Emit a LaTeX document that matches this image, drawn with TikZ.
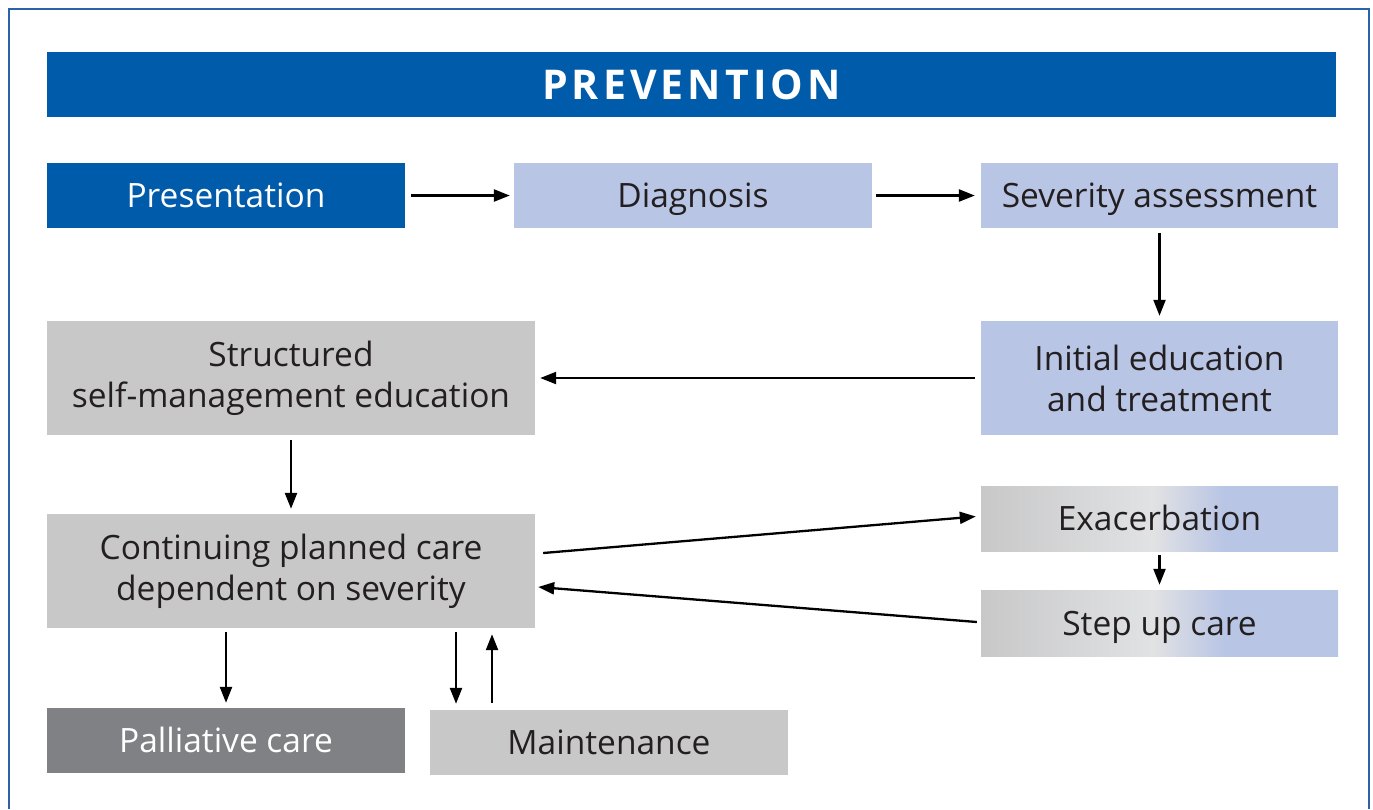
\documentclass[tikz,border=0pt]{standalone}
\usepackage{fontspec}
\setmainfont{Open Sans}
\newfontfamily\headfont[LetterSpace=10]{Open Sans}
\usetikzlibrary{arrows.meta}
\definecolor{frameblue}{HTML}{2E62A8}
\definecolor{darkblue}{HTML}{005BAA}
\definecolor{lightblue}{HTML}{B9C5E5}
\definecolor{lightgray}{HTML}{C8C8C9}
\definecolor{paleGray}{HTML}{E1E2E3}
\definecolor{darkgray}{HTML}{808184}
\definecolor{inktext}{HTML}{231F20}
\pgfdeclarehorizontalshading{grayblue}{100bp}{%
  color(0bp)=(lightgray); color(25bp)=(lightgray);
  color(49bp)=(paleGray); color(59bp)=(lightblue);
  color(75bp)=(lightblue); color(100bp)=(lightblue)}
\tikzset{
  box/.style={inner sep=0pt, align=center, font=\fontsize{33.5}{41}\selectfont, text=inktext},
  oneline/.style={text height=24pt, text depth=0pt},
  bluebox/.style={box, fill=lightblue},
  graybox/.style={box, fill=lightgray},
  gradbox/.style={box, shading=grayblue},
  darkbox/.style={box, fill=darkblue, text=white},
  dgraybox/.style={box, fill=darkgray, text=white},
  arr/.style={draw=black, line width=2.3pt, -{Triangle[length=16pt,width=12pt]}}
}
\begin{document}
\begin{tikzpicture}[x=1pt,y=-1pt]
\useasboundingbox (0,0) rectangle (1373,809);
% frame open at the bottom
\draw[frameblue, line width=2pt] (9,809) -- (9,9) -- (1369,9) -- (1369,809);
% header bar
\node[darkbox, oneline, text height=29pt, minimum width=1289pt, minimum height=65pt, font=\headfont\bfseries\fontsize{41}{44}\selectfont] (prev) at (691.5,84.5) {PREVENTION};
% top row
\node[darkbox, oneline, minimum width=358pt, minimum height=65pt] (pres) at (226,195.5) {Presentation};
\node[bluebox, oneline, minimum width=358pt, minimum height=65pt] (diag) at (693,195.5) {Diagnosis};
\node[bluebox, oneline, minimum width=357pt, minimum height=65pt] (sev) at (1159.5,195.5) {Severity assessment};
% second row
\node[graybox, minimum width=488pt, minimum height=114pt] (smed) at (291,378) {Structured\\self-management education};
\node[bluebox, minimum width=357pt, minimum height=114pt] (init) at (1159.5,378) {Initial education\\and treatment};
% third row
\node[graybox, minimum width=488pt, minimum height=114pt] (cont) at (291,571) {Continuing planned care\\dependent on severity};
\node[gradbox, oneline, minimum width=357pt, minimum height=65pt] (exac) at (1159.5,518.5) {Exacerbation};
\node[gradbox, oneline, minimum width=357pt, minimum height=66pt] (step) at (1159.5,623) {Step up care};
% bottom row
\node[dgraybox, oneline, minimum width=358pt, minimum height=65pt] (pall) at (226,740.5) {Palliative care};
\node[graybox, oneline, minimum width=358pt, minimum height=65pt] (main) at (609,742.5) {Maintenance};
% connectors (canvas yshift: negative = downwards)
\draw[arr] ([xshift=6pt]pres.east) -- ([xshift=-4pt]diag.west);
\draw[arr] ([xshift=4pt]diag.east) -- ([xshift=-6pt]sev.west);
\draw[arr] ([yshift=-5pt]sev.south) -- ([yshift=5pt]init.north);
\draw[arr] ([xshift=-6pt]init.west) -- ([xshift=5pt]smed.east);
\draw[arr] ([yshift=-5pt]smed.south) -- ([yshift=5pt]cont.north);
\draw[arr] ([xshift=8pt,yshift=18pt]cont.east) -- ([xshift=-5pt,yshift=2pt]exac.west);
\draw[arr] ([xshift=-4pt,yshift=1pt]step.west) -- ([xshift=3pt,yshift=-16pt]cont.east);
\draw[arr] ([yshift=-4pt]exac.south) -- ([yshift=5pt]step.north);
\draw[arr] ([yshift=-4pt]cont.south -| pall.north) -- ([yshift=5pt]pall.north);
\draw[arr] ([xshift=165pt,yshift=-4pt]cont.south) -- ([xshift=-153pt,yshift=6pt]main.north);
\draw[arr] ([xshift=-117pt,yshift=7pt]main.north) -- ([xshift=201pt,yshift=-6pt]cont.south);
\end{tikzpicture}
\end{document}
